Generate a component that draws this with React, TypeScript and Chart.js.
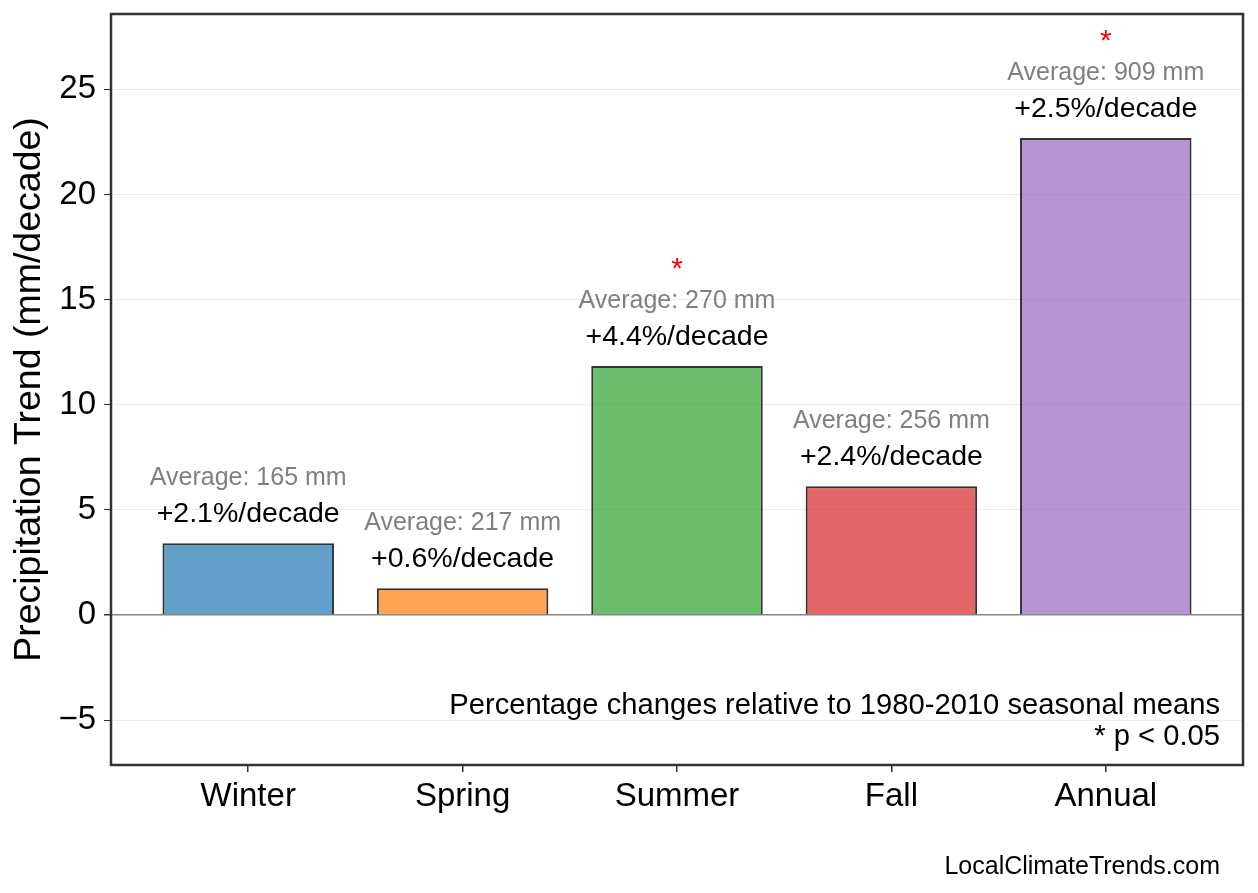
import React, { useEffect, useRef } from 'react';
import { Chart, registerables, Plugin } from 'chart.js';

Chart.register(...registerables);

const seasons: string[] = ['Winter', 'Spring', 'Summer', 'Fall', 'Annual'];
const trendValues: number[] = [3.42, 1.28, 11.84, 6.13, 22.68];
const pctPerDecade: number[] = [2.1, 0.6, 4.4, 2.4, 2.5];
const averageMm: number[] = [165, 217, 270, 256, 909];
const significant: boolean[] = [false, false, true, false, true];
const yTicks: number[] = [-5, 0, 5, 10, 15, 20, 25];

const baseColors: string[] = [
    'rgba(31,119,180,0.7)',
    'rgba(255,127,14,0.7)',
    'rgba(44,160,44,0.7)',
    'rgba(214,39,40,0.7)',
    'rgba(148,103,189,0.7)',
];

const FONT = '"Liberation Sans", Arial, Helvetica, sans-serif';

const annotationsPlugin: Plugin<'bar'> = {
    id: 'annotations',
    afterDraw(chart) {
        const ctx = chart.ctx;
        const area = chart.chartArea;
        const meta = chart.getDatasetMeta(0);
        ctx.save();

        // labels above bars
        meta.data.forEach((bar: any, i: number) => {
            const x = bar.x;
            const top = bar.y;
            ctx.textAlign = 'center';
            ctx.textBaseline = 'alphabetic';
            ctx.fillStyle = '#000';
            ctx.font = `28.5px ${FONT}`;
            ctx.fillText(`+${pctPerDecade[i].toFixed(1)}%/decade`, x, top - 21);
            ctx.fillStyle = '#808080';
            ctx.font = `25px ${FONT}`;
            ctx.fillText(`Average: ${averageMm[i]} mm`, x, top - 58);
            if (significant[i]) {
                ctx.fillStyle = '#ff0000';
                ctx.font = `30px ${FONT}`;
                ctx.fillText('*', x, top - 88);
            }
        });

        // notes
        ctx.fillStyle = '#000';
        ctx.textAlign = 'right';
        ctx.font = `29.2px ${FONT}`;
        ctx.fillText('Percentage changes relative to 1980-2010 seasonal means', area.right - 23, area.bottom - 51);
        ctx.fillText('* p < 0.05', area.right - 23, area.bottom - 20);

        ctx.font = `25px ${FONT}`;
        ctx.fillText('LocalClimateTrends.com', chart.width - 38, chart.height - 19);

        // frame
        ctx.strokeStyle = '#333';
        ctx.lineWidth = 2.5;
        ctx.strokeRect(area.left, area.top, area.right - area.left, area.bottom - area.top);
        ctx.restore();
    },
};

const App: React.FC = () => {
    const canvasRef = useRef<HTMLCanvasElement>(null);

    useEffect(() => {
        if (!canvasRef.current) return;
        const ctx = canvasRef.current.getContext('2d');
        if (!ctx) return;

        const chart = new Chart(ctx, {
            type: 'bar',
            data: {
                datasets: [{
                    data: trendValues.map((v, i) => ({ x: i, y: v })),
                    backgroundColor: baseColors,
                    borderColor: 'rgba(0,0,0,0.8)',
                    borderWidth: 2,
                    categoryPercentage: 1,
                    barPercentage: 0.8,
                }],
            },
            options: {
                animation: false,
                responsive: true,
                maintainAspectRatio: false,
                layout: { padding: { top: 14, right: 15, left: 0, bottom: 0 } },
                plugins: {
                    legend: { display: false },
                    tooltip: { enabled: false },
                },
                scales: {
                    x: {
                        type: 'linear',
                        min: -0.64,
                        max: 4.64,
                        offset: false,
                        afterBuildTicks: (scale: any) => {
                            scale.ticks = seasons.map((_, i) => ({ value: i }));
                        },
                        afterFit: (scale: any) => {
                            scale.height = 128;
                            scale.paddingLeft = 0;
                            scale.paddingRight = 0;
                        },
                        grid: {
                            offset: false,
                            drawOnChartArea: false,
                            color: '#333',
                            tickLength: 7,
                            lineWidth: 1.5,
                        },
                        border: { display: false },
                        ticks: {
                            callback: (v: any) => seasons[v as number] ?? '',
                            color: '#000',
                            font: { family: FONT, size: 33 },
                            padding: 5,
                            maxRotation: 0,
                            autoSkip: false,
                        },
                    },
                    y: {
                        min: -7.13,
                        max: 28.58,
                        afterBuildTicks: (scale: any) => {
                            scale.ticks = yTicks.map((v) => ({ value: v }));
                        },
                        afterFit: (scale: any) => {
                            scale.width = 111;
                            scale.paddingTop = 0;
                            scale.paddingBottom = 0;
                        },
                        grid: {
                            color: (c: any) => (c.tick && c.tick.value === 0 ? '#888888' : '#ececec'),
                            lineWidth: (c: any) => (c.tick && c.tick.value === 0 ? 1.5 : 1),
                            tickColor: '#333',
                            tickLength: 7,
                        },
                        border: { display: false },
                        ticks: {
                            callback: (v: any) => (v < 0 ? '\u2212' + Math.abs(v) : String(v)),
                            color: '#000',
                            font: { family: FONT, size: 33 },
                            padding: 8,
                        },
                        title: {
                            display: true,
                            text: 'Precipitation Trend (mm/decade)',
                            color: '#000',
                            font: { family: FONT, size: 37.5, lineHeight: 1 },
                            padding: { top: 11, bottom: 0 },
                        },
                    },
                },
            },
            plugins: [annotationsPlugin],
        });

        return () => {
            chart.destroy();
        };
    }, []);

    return (
        <div style={{ position: 'absolute', left: 0, top: 0, width: 1258, height: 893, background: '#fff' }}>
            <canvas ref={canvasRef}></canvas>
        </div>
    );
};

export default App;
